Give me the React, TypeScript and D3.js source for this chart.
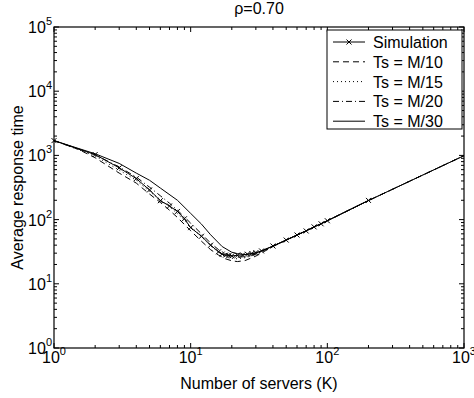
import { useRef, useEffect } from 'react'
import * as d3 from 'd3'

const WIDTH = 474
const HEIGHT = 398
const PLOT = { left: 54, right: 464, top: 27, bottom: 348 }
const FONT = '"Liberation Sans", Arial, Helvetica, sans-serif'

const X_DECADES = [1, 10, 100, 1000]
const Y_DECADES = [1, 10, 100, 1000, 10000, 100000]

// Simulation points (number of servers, average response time)
const SIM_K = [1, 2, 3, 4, 5, 6, 7, 8, 9, 10, 12, 14, 16, 17, 18, 19, 20, 22, 24, 26, 28, 30, 33, 40, 50, 60, 70, 80, 90, 100, 200]
const SIM_T = [1700, 1030, 640, 435, 290, 197, 163, 134, 103, 75, 55, 40, 31.5, 29, 28, 27.5, 27.2, 27.8, 28.1, 28.9, 29.7, 30.6, 32.5, 38.8, 48, 57.5, 66.5, 77, 86, 96, 199]

// Model curves
const M10_K = [1, 1.5, 2, 3, 4, 5, 6, 7, 8, 9, 10, 12, 14, 16, 18, 20, 22, 25, 30, 40, 50, 70, 100, 200, 500, 1000]
const M10_T = [1700, 1250, 920, 530, 370, 250, 185, 140, 108, 84, 67, 46, 34, 28, 24.5, 22.8, 22.2, 23, 27, 38, 48, 67, 96, 198, 495, 990]

const M15_K = [1, 2, 3, 4, 5, 6, 7, 8, 9, 10, 12, 14, 16, 18, 20, 22, 25, 30, 40, 50, 70, 100, 200, 500, 1000]
const M15_T = [1700, 980, 590, 410, 275, 205, 160, 124, 97, 78, 54, 39, 31, 27, 25, 24.5, 25.5, 28.5, 38.5, 48, 67, 96, 198, 495, 990]

const M20_K = [1, 2, 3, 4, 5, 6, 7, 8, 9, 10, 12, 14, 16, 18, 20, 22, 25, 30, 40, 50, 70, 100, 200, 500, 1000]
const M20_T = [1700, 1020, 660, 460, 320, 235, 180, 140, 110, 88, 60, 43, 34, 29.5, 27, 26, 26.5, 29, 38.5, 48, 67, 96, 198, 495, 990]

const M30_K = [1, 2, 3, 4, 5, 6, 8, 10, 12, 14, 17, 20, 22, 25, 30, 40, 50, 70, 100, 200, 500, 1000]
const M30_T = [1700, 1060, 750, 530, 410, 310, 200, 125, 85, 58, 38, 31, 29.5, 28.5, 30, 38.5, 48, 67, 96, 198, 495, 990]

const SERIES = [
  { label: 'Simulation', k: SIM_K, t: SIM_T, dash: null, marker: true },
  { label: 'Ts = M/10', k: M10_K, t: M10_T, dash: '6,4', marker: false },
  { label: 'Ts = M/15', k: M15_K, t: M15_T, dash: '1,3', marker: false },
  { label: 'Ts = M/20', k: M20_K, t: M20_T, dash: '6,3,1,3', marker: false },
  { label: 'Ts = M/30', k: M30_K, t: M30_T, dash: null, marker: false },
]

function minorTicks(decades: number[]) {
  const out: number[] = []
  for (let i = 0; i < decades.length - 1; i++) {
    for (let m = 2; m <= 9; m++) out.push(decades[i] * m)
  }
  return out
}

export default function App() {
  const svgRef = useRef<SVGSVGElement>(null)

  useEffect(() => {
    if (!svgRef.current) return
    const svg = d3.select(svgRef.current)
    svg.selectAll('*').remove()

    const x = d3.scaleLog().domain([1, 1000]).range([PLOT.left, PLOT.right])
    const y = d3.scaleLog().domain([1, 100000]).range([PLOT.bottom, PLOT.top])

    svg.append('rect').attr('width', WIDTH).attr('height', HEIGHT).attr('fill', '#fff')

    // Curves
    const line = d3.line<[number, number]>().x(d => x(d[0])).y(d => y(d[1]))
    const g = svg.append('g')
    SERIES.slice().reverse().forEach(s => {
      const pts = s.k.map((k, i) => [k, s.t[i]] as [number, number])
      g.append('path').datum(pts).attr('d', line)
        .attr('fill', 'none').attr('stroke', '#000').attr('stroke-width', 1)
        .attr('stroke-dasharray', s.dash)
      if (s.marker) {
        pts.forEach(p => {
          const cx = x(p[0]), cy = y(p[1]), r = 2.5
          g.append('path')
            .attr('d', `M${cx - r},${cy - r}L${cx + r},${cy + r}M${cx - r},${cy + r}L${cx + r},${cy - r}`)
            .attr('stroke', '#000').attr('stroke-width', 1)
        })
      }
    })

    // Ticks on all four sides, pointing in
    const ticks = svg.append('g').attr('stroke', '#000').attr('stroke-width', 1)
    const xMajor = X_DECADES, xMinor = minorTicks(X_DECADES)
    const yMajor = Y_DECADES, yMinor = minorTicks(Y_DECADES)
    xMajor.forEach(v => {
      ticks.append('line').attr('x1', x(v)).attr('x2', x(v)).attr('y1', PLOT.bottom).attr('y2', PLOT.bottom - 5)
      ticks.append('line').attr('x1', x(v)).attr('x2', x(v)).attr('y1', PLOT.top).attr('y2', PLOT.top + 5)
    })
    xMinor.forEach(v => {
      ticks.append('line').attr('x1', x(v)).attr('x2', x(v)).attr('y1', PLOT.bottom).attr('y2', PLOT.bottom - 3)
      ticks.append('line').attr('x1', x(v)).attr('x2', x(v)).attr('y1', PLOT.top).attr('y2', PLOT.top + 3)
    })
    yMajor.forEach(v => {
      ticks.append('line').attr('x1', PLOT.left).attr('x2', PLOT.left + 5).attr('y1', y(v)).attr('y2', y(v))
      ticks.append('line').attr('x1', PLOT.right).attr('x2', PLOT.right - 5).attr('y1', y(v)).attr('y2', y(v))
    })
    yMinor.forEach(v => {
      ticks.append('line').attr('x1', PLOT.left).attr('x2', PLOT.left + 3).attr('y1', y(v)).attr('y2', y(v))
      ticks.append('line').attr('x1', PLOT.right).attr('x2', PLOT.right - 3).attr('y1', y(v)).attr('y2', y(v))
    })

    // Axes box
    svg.append('rect')
      .attr('x', PLOT.left).attr('y', PLOT.top)
      .attr('width', PLOT.right - PLOT.left).attr('height', PLOT.bottom - PLOT.top)
      .attr('fill', 'none').attr('stroke', '#000').attr('stroke-width', 1.2)

    // Tick labels
    const labels = svg.append('g').attr('font-family', FONT).attr('fill', '#000')
    xMajor.forEach(v => {
      const t = labels.append('text').attr('x', x(v)).attr('y', PLOT.bottom + 15)
        .attr('text-anchor', 'middle').attr('font-size', 16)
      t.append('tspan').text('10')
      t.append('tspan').attr('dy', -8).attr('font-size', 11).text(String(Math.round(Math.log10(v))))
    })
    yMajor.forEach(v => {
      const t = labels.append('text').attr('x', PLOT.left - 2).attr('y', y(v) + 6)
        .attr('text-anchor', 'end').attr('font-size', 16)
      t.append('tspan').text('10')
      t.append('tspan').attr('dy', -8).attr('font-size', 11).text(String(Math.round(Math.log10(v))))
    })

    // Title and axis labels
    labels.append('text').attr('x', (PLOT.left + PLOT.right) / 2).attr('y', 14)
      .attr('text-anchor', 'middle').attr('font-size', 16).text('ρ=0.70')
    labels.append('text').attr('x', (PLOT.left + PLOT.right) / 2).attr('y', 389)
      .attr('text-anchor', 'middle').attr('font-size', 16).text('Number of servers (K)')
    labels.append('text').attr('transform', `translate(23,${(PLOT.top + PLOT.bottom) / 2}) rotate(-90)`)
      .attr('text-anchor', 'middle').attr('font-size', 16).text('Average response time')

    // Legend
    const leg = svg.append('g')
    leg.append('rect').attr('x', 327).attr('y', 30).attr('width', 135).attr('height', 99)
      .attr('fill', '#fff').attr('stroke', '#000').attr('stroke-width', 1)
    SERIES.forEach((s, i) => {
      const ly = 42 + i * 19.8
      leg.append('line').attr('x1', 333).attr('x2', 365).attr('y1', ly).attr('y2', ly)
        .attr('stroke', '#000').attr('stroke-width', 1).attr('stroke-dasharray', s.dash)
      if (s.marker) {
        const r = 2.5
        leg.append('path')
          .attr('d', `M${349 - r},${ly - r}L${349 + r},${ly + r}M${349 - r},${ly + r}L${349 + r},${ly - r}`)
          .attr('stroke', '#000').attr('stroke-width', 1)
      }
      leg.append('text').attr('x', 373).attr('y', ly + 6)
        .attr('font-family', FONT).attr('font-size', 16).text(s.label)
    })
  }, [])

  return (
    <svg ref={svgRef} width={WIDTH} height={HEIGHT}
      style={{ position: 'absolute', left: 0, top: 0 }} />
  )
}
